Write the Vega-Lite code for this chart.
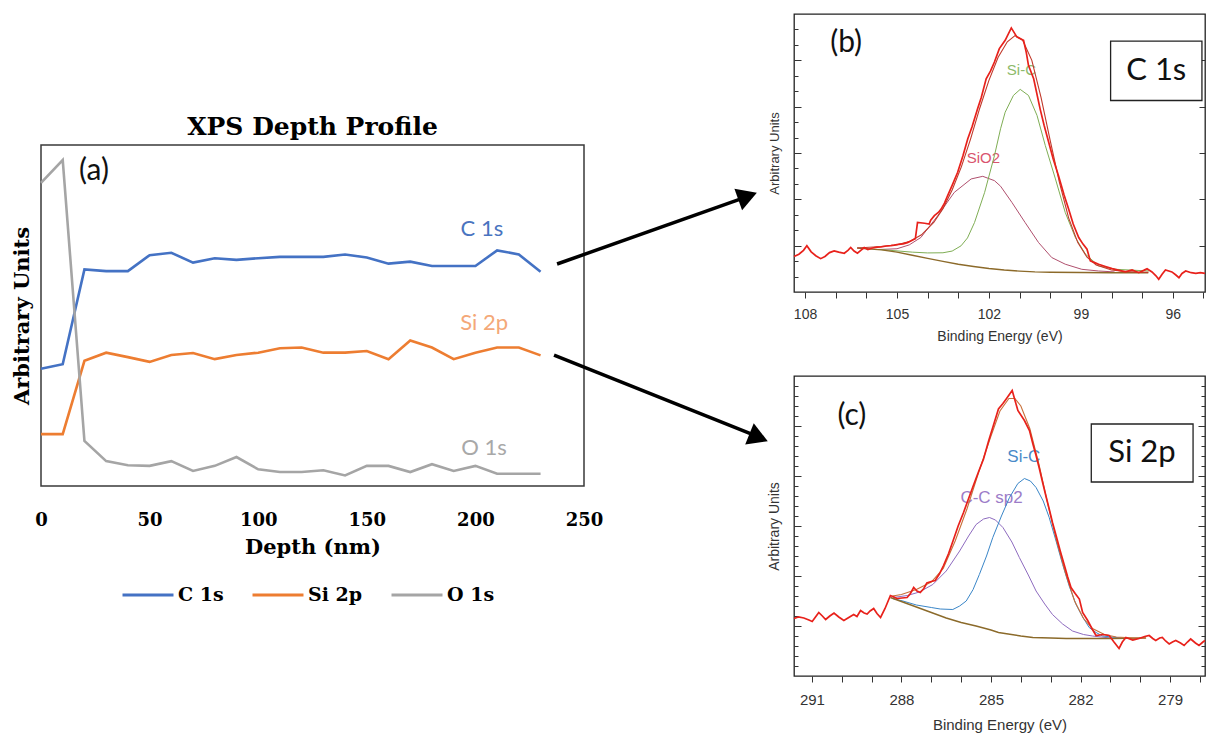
{
  "$schema": "https://vega.github.io/schema/vega-lite/v6.json",
  "background": "white",
  "padding": {"left": 10, "top": 13, "right": 0, "bottom": 0},
  "autosize": {"type": "pad"},
  "config": {"axis": {"grid": false}},
  "datasets": {
    "profile": [
      {"depth": 0, "C 1s": 34.4, "Si 2p": 15.2, "O 1s": 88.9},
      {"depth": 10, "C 1s": 35.7, "Si 2p": 15.2, "O 1s": 95.6},
      {"depth": 20, "C 1s": 63.5, "Si 2p": 36.7, "O 1s": 13.2},
      {"depth": 30, "C 1s": 63.0, "Si 2p": 39.1, "O 1s": 7.3},
      {"depth": 40, "C 1s": 63.0, "Si 2p": 37.8, "O 1s": 6.1},
      {"depth": 50, "C 1s": 67.7, "Si 2p": 36.4, "O 1s": 5.9},
      {"depth": 60, "C 1s": 68.4, "Si 2p": 38.4, "O 1s": 7.3},
      {"depth": 70, "C 1s": 65.5, "Si 2p": 39.0, "O 1s": 4.4},
      {"depth": 80, "C 1s": 66.8, "Si 2p": 37.2, "O 1s": 5.9},
      {"depth": 90, "C 1s": 66.3, "Si 2p": 38.4, "O 1s": 8.5},
      {"depth": 100, "C 1s": 66.8, "Si 2p": 39.1, "O 1s": 4.9},
      {"depth": 110, "C 1s": 67.2, "Si 2p": 40.4, "O 1s": 4.1},
      {"depth": 120, "C 1s": 67.2, "Si 2p": 40.6, "O 1s": 4.1},
      {"depth": 130, "C 1s": 67.2, "Si 2p": 39.1, "O 1s": 4.6},
      {"depth": 140, "C 1s": 67.9, "Si 2p": 39.1, "O 1s": 3.1},
      {"depth": 150, "C 1s": 67.0, "Si 2p": 39.6, "O 1s": 5.9},
      {"depth": 160, "C 1s": 65.2, "Si 2p": 37.2, "O 1s": 5.9},
      {"depth": 170, "C 1s": 65.8, "Si 2p": 42.7, "O 1s": 4.1},
      {"depth": 180, "C 1s": 64.5, "Si 2p": 40.6, "O 1s": 6.4},
      {"depth": 190, "C 1s": 64.5, "Si 2p": 37.2, "O 1s": 4.4},
      {"depth": 200, "C 1s": 64.5, "Si 2p": 39.1, "O 1s": 5.9},
      {"depth": 210, "C 1s": 69.1, "Si 2p": 40.6, "O 1s": 3.6},
      {"depth": 220, "C 1s": 67.9, "Si 2p": 40.6, "O 1s": 3.6},
      {"depth": 230, "C 1s": 62.8, "Si 2p": 38.3, "O 1s": 3.6}
    ],
    "b_raw": [
      {"e": 108.36, "v": 23.0}, {"e": 108.2, "v": 24.5}, {"e": 108.05, "v": 27.0}, {"e": 107.94, "v": 30.0},
      {"e": 107.8, "v": 26.0}, {"e": 107.65, "v": 23.5}, {"e": 107.49, "v": 21.6}, {"e": 107.35, "v": 23.0},
      {"e": 107.2, "v": 25.5}, {"e": 107.05, "v": 26.6}, {"e": 106.9, "v": 25.8}, {"e": 106.72, "v": 25.1},
      {"e": 106.6, "v": 27.0}, {"e": 106.51, "v": 28.8}, {"e": 106.4, "v": 26.5}, {"e": 106.29, "v": 25.1},
      {"e": 106.18, "v": 27.0}, {"e": 106.07, "v": 28.8}, {"e": 105.95, "v": 27.5}, {"e": 105.8, "v": 28.5},
      {"e": 105.65, "v": 29.0}, {"e": 105.52, "v": 29.2}, {"e": 105.35, "v": 29.8}, {"e": 105.2, "v": 30.0},
      {"e": 105.09, "v": 30.3}, {"e": 104.95, "v": 30.8}, {"e": 104.8, "v": 31.2}, {"e": 104.66, "v": 32.0},
      {"e": 104.55, "v": 33.0}, {"e": 104.44, "v": 34.2}, {"e": 104.4, "v": 34.5}, {"e": 104.33, "v": 45.0},
      {"e": 104.1, "v": 44.5}, {"e": 103.95, "v": 44.0}, {"e": 103.9, "v": 46.5}, {"e": 103.78, "v": 49.4},
      {"e": 103.65, "v": 51.5}, {"e": 103.56, "v": 53.7}, {"e": 103.45, "v": 57.5}, {"e": 103.35, "v": 62.3},
      {"e": 103.2, "v": 69.0}, {"e": 103.02, "v": 77.5}, {"e": 102.85, "v": 88.0}, {"e": 102.69, "v": 99.2},
      {"e": 102.55, "v": 107.0}, {"e": 102.37, "v": 118.6}, {"e": 102.25, "v": 126.0}, {"e": 102.09, "v": 138.1},
      {"e": 101.95, "v": 143.0}, {"e": 101.82, "v": 148.9}, {"e": 101.66, "v": 157.6}, {"e": 101.47, "v": 163.0},
      {"e": 101.27, "v": 171.0}, {"e": 101.09, "v": 165.2}, {"e": 100.87, "v": 163.0}, {"e": 100.78, "v": 155.0},
      {"e": 100.71, "v": 146.8}, {"e": 100.54, "v": 138.1}, {"e": 100.33, "v": 118.6}, {"e": 100.2, "v": 108.0},
      {"e": 100.05, "v": 97.0}, {"e": 99.9, "v": 86.0}, {"e": 99.73, "v": 75.3}, {"e": 99.55, "v": 63.0},
      {"e": 99.4, "v": 53.7}, {"e": 99.25, "v": 44.0}, {"e": 99.07, "v": 35.3}, {"e": 98.93, "v": 31.0},
      {"e": 98.8, "v": 27.7}, {"e": 98.69, "v": 20.1}, {"e": 98.55, "v": 19.0}, {"e": 98.42, "v": 18.0},
      {"e": 98.2, "v": 16.5}, {"e": 97.98, "v": 15.1}, {"e": 97.75, "v": 14.0}, {"e": 97.55, "v": 13.0},
      {"e": 97.33, "v": 14.3}, {"e": 97.11, "v": 12.5}, {"e": 96.95, "v": 14.0}, {"e": 96.84, "v": 15.1},
      {"e": 96.68, "v": 13.0}, {"e": 96.55, "v": 10.5}, {"e": 96.46, "v": 8.2}, {"e": 96.35, "v": 11.5},
      {"e": 96.24, "v": 14.3}, {"e": 96.03, "v": 13.0}, {"e": 95.9, "v": 11.0}, {"e": 95.8, "v": 9.3},
      {"e": 95.7, "v": 12.0}, {"e": 95.58, "v": 13.6}, {"e": 95.4, "v": 12.5}, {"e": 95.25, "v": 12.1},
      {"e": 95.1, "v": 12.6}, {"e": 94.95, "v": 12.1}
    ],
    "b_env": [
      {"e": 106.3, "v": 28.5}, {"e": 105.5, "v": 29.5}, {"e": 105.0, "v": 30.6}, {"e": 104.6, "v": 32.6},
      {"e": 104.2, "v": 37.0}, {"e": 103.8, "v": 45.0}, {"e": 103.5, "v": 54.0}, {"e": 103.2, "v": 66.0},
      {"e": 102.9, "v": 81.0}, {"e": 102.6, "v": 99.0}, {"e": 102.3, "v": 119.0}, {"e": 102.0, "v": 137.0},
      {"e": 101.7, "v": 152.0}, {"e": 101.4, "v": 162.0}, {"e": 101.15, "v": 166.0}, {"e": 100.9, "v": 163.0},
      {"e": 100.6, "v": 150.0}, {"e": 100.3, "v": 126.0}, {"e": 100.0, "v": 98.0}, {"e": 99.7, "v": 71.0},
      {"e": 99.4, "v": 48.0}, {"e": 99.1, "v": 32.0}, {"e": 98.8, "v": 22.5}, {"e": 98.5, "v": 17.5},
      {"e": 98.0, "v": 14.2}, {"e": 97.5, "v": 13.2}, {"e": 97.0, "v": 12.8}, {"e": 96.8, "v": 12.7}
    ],
    "b_bg": [
      {"e": 106.3, "v": 28.5}, {"e": 105.5, "v": 27.3}, {"e": 105.0, "v": 25.8}, {"e": 104.5, "v": 23.8},
      {"e": 104.0, "v": 21.8}, {"e": 103.5, "v": 19.8}, {"e": 103.0, "v": 18.0}, {"e": 102.5, "v": 16.5},
      {"e": 102.0, "v": 15.2}, {"e": 101.5, "v": 14.2}, {"e": 101.0, "v": 13.5}, {"e": 100.5, "v": 13.0},
      {"e": 100.0, "v": 12.8}, {"e": 99.0, "v": 12.6}, {"e": 98.0, "v": 12.5}, {"e": 97.0, "v": 12.5},
      {"e": 96.8, "v": 12.5}
    ],
    "b_sio2": [
      {"e": 105.6, "v": 27.5}, {"e": 105.0, "v": 28.0}, {"e": 104.6, "v": 30.5}, {"e": 104.22, "v": 35.3},
      {"e": 103.67, "v": 49.4}, {"e": 103.13, "v": 64.5}, {"e": 102.58, "v": 73.2}, {"e": 102.2, "v": 74.9},
      {"e": 101.82, "v": 72.1}, {"e": 101.62, "v": 68.5}, {"e": 101.25, "v": 58.0}, {"e": 100.82, "v": 45.0},
      {"e": 100.38, "v": 32.0}, {"e": 99.95, "v": 22.3}, {"e": 99.51, "v": 18.0}, {"e": 98.97, "v": 14.7},
      {"e": 98.42, "v": 13.6}, {"e": 97.9, "v": 13.0}
    ],
    "b_sic": [
      {"e": 105.6, "v": 27.6}, {"e": 104.5, "v": 25.8}, {"e": 104.0, "v": 25.3}, {"e": 103.5, "v": 25.4},
      {"e": 103.2, "v": 26.5}, {"e": 102.91, "v": 29.9}, {"e": 102.7, "v": 35.0}, {"e": 102.47, "v": 45.0},
      {"e": 102.14, "v": 64.5}, {"e": 101.82, "v": 88.3}, {"e": 101.62, "v": 105.7}, {"e": 101.47, "v": 116.4},
      {"e": 101.2, "v": 127.3}, {"e": 100.98, "v": 131.2}, {"e": 100.71, "v": 127.3}, {"e": 100.43, "v": 114.3},
      {"e": 100.16, "v": 94.8}, {"e": 99.83, "v": 73.2}, {"e": 99.51, "v": 51.5}, {"e": 99.18, "v": 35.3},
      {"e": 98.85, "v": 24.5}, {"e": 98.42, "v": 16.9}, {"e": 97.87, "v": 14.7}, {"e": 96.78, "v": 13.6}
    ],
    "c_raw": [
      {"e": 291.6, "v": 11.5}, {"e": 291.45, "v": 11.8}, {"e": 291.27, "v": 11.6}, {"e": 291.1, "v": 11.2},
      {"e": 290.99, "v": 10.9}, {"e": 290.88, "v": 11.8}, {"e": 290.77, "v": 12.7}, {"e": 290.65, "v": 12.0},
      {"e": 290.54, "v": 11.3}, {"e": 290.4, "v": 12.0}, {"e": 290.26, "v": 12.6}, {"e": 290.1, "v": 11.8},
      {"e": 289.93, "v": 11.1}, {"e": 289.82, "v": 11.5}, {"e": 289.71, "v": 11.9}, {"e": 289.6, "v": 12.3},
      {"e": 289.49, "v": 11.9}, {"e": 289.37, "v": 13.1}, {"e": 289.25, "v": 12.6}, {"e": 289.15, "v": 12.4},
      {"e": 289.05, "v": 13.0}, {"e": 288.93, "v": 13.5}, {"e": 288.82, "v": 12.5}, {"e": 288.7, "v": 11.7},
      {"e": 288.55, "v": 13.5}, {"e": 288.37, "v": 16.1}, {"e": 288.25, "v": 15.8}, {"e": 288.15, "v": 15.5},
      {"e": 287.98, "v": 15.6}, {"e": 287.81, "v": 15.7}, {"e": 287.7, "v": 16.5}, {"e": 287.59, "v": 17.7},
      {"e": 287.48, "v": 17.0}, {"e": 287.37, "v": 16.7}, {"e": 287.25, "v": 17.5}, {"e": 287.15, "v": 18.6},
      {"e": 287.0, "v": 18.9}, {"e": 286.87, "v": 19.1}, {"e": 286.72, "v": 20.5}, {"e": 286.59, "v": 22.1},
      {"e": 286.42, "v": 24.5}, {"e": 286.25, "v": 27.4}, {"e": 286.1, "v": 30.0}, {"e": 285.92, "v": 32.7},
      {"e": 285.75, "v": 35.5}, {"e": 285.59, "v": 38.1}, {"e": 285.42, "v": 40.8}, {"e": 285.25, "v": 43.4},
      {"e": 285.08, "v": 47.0}, {"e": 284.92, "v": 50.1}, {"e": 284.75, "v": 53.4}, {"e": 284.6, "v": 54.5},
      {"e": 284.49, "v": 55.4}, {"e": 284.29, "v": 57.1}, {"e": 284.1, "v": 53.1}, {"e": 283.88, "v": 51.1},
      {"e": 283.71, "v": 49.1}, {"e": 283.6, "v": 46.5}, {"e": 283.49, "v": 44.1}, {"e": 283.38, "v": 41.5},
      {"e": 283.27, "v": 38.7}, {"e": 283.16, "v": 36.0}, {"e": 283.05, "v": 33.4}, {"e": 282.94, "v": 30.7},
      {"e": 282.82, "v": 28.1}, {"e": 282.68, "v": 25.0}, {"e": 282.54, "v": 22.1}, {"e": 282.43, "v": 19.8},
      {"e": 282.32, "v": 17.7}, {"e": 282.18, "v": 16.5}, {"e": 282.04, "v": 15.4}, {"e": 281.93, "v": 12.7},
      {"e": 281.76, "v": 11.1}, {"e": 281.62, "v": 9.5}, {"e": 281.48, "v": 8.1}, {"e": 281.25, "v": 8.3},
      {"e": 281.04, "v": 8.1}, {"e": 280.88, "v": 6.8}, {"e": 280.71, "v": 5.5}, {"e": 280.6, "v": 6.8},
      {"e": 280.48, "v": 7.7}, {"e": 280.25, "v": 7.2}, {"e": 280.04, "v": 7.5}, {"e": 279.85, "v": 7.9},
      {"e": 279.7, "v": 8.1}, {"e": 279.58, "v": 7.5}, {"e": 279.48, "v": 7.1}, {"e": 279.35, "v": 7.6},
      {"e": 279.26, "v": 7.7}, {"e": 279.15, "v": 7.0}, {"e": 279.03, "v": 6.4}, {"e": 278.92, "v": 6.8},
      {"e": 278.81, "v": 7.1}, {"e": 278.65, "v": 6.6}, {"e": 278.53, "v": 6.1}, {"e": 278.42, "v": 6.8},
      {"e": 278.31, "v": 7.4}, {"e": 278.15, "v": 6.6}, {"e": 278.03, "v": 6.1}, {"e": 277.9, "v": 6.8},
      {"e": 277.83, "v": 7.1}
    ],
    "c_env": [
      {"e": 288.3, "v": 16.0}, {"e": 288.0, "v": 16.3}, {"e": 287.5, "v": 17.3}, {"e": 287.0, "v": 18.8},
      {"e": 286.6, "v": 21.5}, {"e": 286.2, "v": 27.0}, {"e": 285.8, "v": 33.5}, {"e": 285.4, "v": 41.0},
      {"e": 285.0, "v": 48.0}, {"e": 284.7, "v": 53.0}, {"e": 284.4, "v": 55.5}, {"e": 284.2, "v": 55.5},
      {"e": 284.0, "v": 54.0}, {"e": 283.7, "v": 49.5}, {"e": 283.4, "v": 42.5}, {"e": 283.1, "v": 34.5},
      {"e": 282.8, "v": 27.0}, {"e": 282.5, "v": 20.5}, {"e": 282.2, "v": 15.0}, {"e": 281.9, "v": 11.5},
      {"e": 281.6, "v": 9.5}, {"e": 281.2, "v": 8.3}, {"e": 280.8, "v": 7.8}, {"e": 280.2, "v": 7.6},
      {"e": 279.8, "v": 7.6}
    ],
    "c_bg": [
      {"e": 288.37, "v": 15.7}, {"e": 287.5, "v": 13.8}, {"e": 287.0, "v": 12.7}, {"e": 286.5, "v": 11.6},
      {"e": 286.0, "v": 10.7}, {"e": 285.5, "v": 10.0}, {"e": 285.0, "v": 9.2}, {"e": 284.75, "v": 8.7},
      {"e": 284.0, "v": 8.0}, {"e": 283.6, "v": 7.7}, {"e": 283.0, "v": 7.6}, {"e": 282.48, "v": 7.5},
      {"e": 281.0, "v": 7.5}, {"e": 279.81, "v": 7.6}
    ],
    "c_sic": [
      {"e": 288.3, "v": 15.5}, {"e": 287.95, "v": 15.0}, {"e": 287.5, "v": 14.2}, {"e": 287.0, "v": 13.7},
      {"e": 286.7, "v": 13.4}, {"e": 286.28, "v": 13.3}, {"e": 286.05, "v": 14.0}, {"e": 285.83, "v": 15.0},
      {"e": 285.6, "v": 17.3}, {"e": 285.39, "v": 20.3}, {"e": 285.15, "v": 24.0}, {"e": 284.94, "v": 27.7},
      {"e": 284.65, "v": 32.0}, {"e": 284.38, "v": 35.7}, {"e": 284.1, "v": 38.5}, {"e": 283.88, "v": 39.5},
      {"e": 283.68, "v": 39.0}, {"e": 283.49, "v": 37.7}, {"e": 283.25, "v": 35.0}, {"e": 283.05, "v": 31.7},
      {"e": 282.82, "v": 27.0}, {"e": 282.6, "v": 22.3}, {"e": 282.38, "v": 18.0}, {"e": 282.15, "v": 14.3},
      {"e": 281.93, "v": 11.8}, {"e": 281.71, "v": 9.7}, {"e": 281.48, "v": 8.7}, {"e": 281.26, "v": 8.0},
      {"e": 280.48, "v": 7.5}
    ],
    "c_cc": [
      {"e": 288.28, "v": 15.7}, {"e": 287.8, "v": 16.1}, {"e": 287.4, "v": 16.8}, {"e": 286.95, "v": 18.3},
      {"e": 286.5, "v": 21.0}, {"e": 286.05, "v": 25.0}, {"e": 285.75, "v": 28.0}, {"e": 285.5, "v": 30.3},
      {"e": 285.25, "v": 31.4}, {"e": 285.05, "v": 31.7}, {"e": 284.85, "v": 31.2}, {"e": 284.6, "v": 29.7},
      {"e": 284.3, "v": 26.8}, {"e": 284.05, "v": 23.7}, {"e": 283.75, "v": 20.2}, {"e": 283.49, "v": 17.0},
      {"e": 283.2, "v": 14.4}, {"e": 282.94, "v": 12.3}, {"e": 282.6, "v": 10.4}, {"e": 282.27, "v": 9.0},
      {"e": 281.9, "v": 8.3}, {"e": 281.6, "v": 8.0}, {"e": 281.0, "v": 7.6}, {"e": 280.4, "v": 7.5}
    ]
  },
  "bounds": "flush",
  "spacing": 753,
  "hconcat": [
    {
      "bounds": "flush",
      "spacing": 0,
      "vconcat": [
        {
          "width": 543,
          "height": 131,
          "view": {"stroke": null},
          "data": {"values": [{"t": ""}]},
          "mark": {"type": "text"},
          "encoding": {"text": {"field": "t"}}
        },
        {
          "width": 543,
          "height": 341,
          "title": {"text": "XPS Depth Profile", "font": "DejaVu Serif", "fontSize": 25, "fontWeight": "bold", "color": "#000000", "offset": 5, "anchor": "middle"},
          "view": {"stroke": "#3a3a3a", "strokeWidth": 1.5},
          "layer": [
            {
              "data": {"name": "profile"},
              "transform": [{"fold": ["C 1s", "Si 2p", "O 1s"], "as": ["series", "val"]}],
              "mark": {"type": "line", "strokeWidth": 2.6},
              "encoding": {
                "x": {"field": "depth", "type": "quantitative", "scale": {"domain": [0, 250], "nice": false, "zero": false},
                  "axis": {"title": "Depth (nm)", "values": [0, 50, 100, 150, 200, 250], "ticks": false, "domain": false, "labelPadding": 25, "labelFlush": false,
                    "labelFont": "DejaVu Serif", "labelFontSize": 18, "labelFontWeight": "bold", "labelColor": "#000000",
                    "titleFont": "DejaVu Serif", "titleFontSize": 21, "titleFontWeight": "bold", "titleColor": "#000000", "titlePadding": 7}},
                "y": {"field": "val", "type": "quantitative", "scale": {"domain": [0, 100], "nice": false, "zero": false},
                  "axis": {"title": "Arbitrary Units", "labels": false, "ticks": false, "domain": false,
                    "titleFont": "DejaVu Serif", "titleFontSize": 21, "titleFontWeight": "bold", "titleColor": "#000000", "titlePadding": 9}},
                "color": {"field": "series", "type": "nominal",
                  "scale": {"domain": ["C 1s", "Si 2p", "O 1s"], "range": ["#4472C4", "#ED7D31", "#A5A5A5"]},
                  "legend": {"orient": "none", "legendX": 80, "legendY": 554, "direction": "horizontal", "title": null,
                    "symbolType": "stroke", "symbolStrokeWidth": 3, "symbolSize": 2600, "columnPadding": 22,
                    "labelFont": "DejaVu Serif", "labelFontSize": 19, "labelFontWeight": "bold", "labelColor": "#000000", "labelOffset": 3}}
              }
            },
            {
              "data": {"values": [
                {"depth": 203, "val": 75.4, "label": "C 1s"},
                {"depth": 204, "val": 47.8, "label": "Si 2p"},
                {"depth": 204, "val": 11.1, "label": "O 1s"}
              ]},
              "mark": {"type": "text", "font": "Lato", "fontSize": 22},
              "encoding": {
                "x": {"field": "depth", "type": "quantitative"},
                "y": {"field": "val", "type": "quantitative"},
                "text": {"field": "label"},
                "fill": {"field": "label", "type": "nominal", "scale": {"domain": ["C 1s", "Si 2p", "O 1s"], "range": ["#4A74C0", "#F4A878", "#A8A8A8"]}, "legend": null}
              }
            },
            {
              "data": {"values": [{"depth": 24.4, "val": 92.4, "label": "(a)"}]},
              "mark": {"type": "text", "font": "Lato", "fontSize": 30, "color": "#111111"},
              "encoding": {
                "x": {"field": "depth", "type": "quantitative"},
                "y": {"field": "val", "type": "quantitative"},
                "text": {"field": "label"}
              }
            },
            {
              "data": {"values": [
                {"depth": 237.6, "val": 65.1, "depth2": 324.5, "val2": 84.7},
                {"depth": 236.2, "val": 38.4, "depth2": 329.5, "val2": 14.6}
              ]},
              "mark": {"type": "rule", "strokeWidth": 3.5, "color": "#000000"},
              "encoding": {
                "x": {"field": "depth", "type": "quantitative"},
                "y": {"field": "val", "type": "quantitative"},
                "x2": {"field": "depth2"},
                "y2": {"field": "val2"}
              }
            },
            {
              "data": {"values": [{"depth": 325.3, "val": 85.0}]},
              "mark": {"type": "point", "shape": "triangle-right", "filled": true, "size": 520, "angle": 340.4, "color": "#000000", "opacity": 1},
              "encoding": {
                "x": {"field": "depth", "type": "quantitative"},
                "y": {"field": "val", "type": "quantitative"}
              }
            },
            {
              "data": {"values": [{"depth": 330.4, "val": 14.2}]},
              "mark": {"type": "point", "shape": "triangle-right", "filled": true, "size": 520, "angle": 22, "color": "#000000", "opacity": 1},
              "encoding": {
                "x": {"field": "depth", "type": "quantitative"},
                "y": {"field": "val", "type": "quantitative"}
              }
            }
          ]
        }
      ]
    },
    {
      "bounds": "flush",
      "spacing": 84,
      "vconcat": [
        {
          "width": 411,
          "height": 278,
          "view": {"stroke": "#222222", "strokeWidth": 1.3},
          "resolve": {"axis": {"y": "independent"}},
          "layer": [
            {
              "encoding": {
                "x": {"field": "e", "type": "quantitative", "scale": {"domain": [94.95, 108.36], "reverse": true, "nice": false, "zero": false},
                  "axis": {"title": "Binding Energy (eV)", "values": [95, 96, 97, 98, 99, 100, 101, 102, 103, 104, 105, 106, 107, 108],
                    "labelExpr": "datum.value % 3 === 0 ? datum.label : ''", "labelOverlap": false, "labelFlush": false,
                    "tickSize": 6, "tickColor": "#333333", "domain": false,
                    "labelFont": "Liberation Sans", "labelFontSize": 14, "labelColor": "#333333", "labelPadding": 9,
                    "titleFont": "Liberation Sans", "titleFontSize": 14, "titleFontWeight": "normal", "titleColor": "#333333", "titlePadding": 8}},
                "y": {"field": "v", "type": "quantitative", "scale": {"domain": [0, 180], "nice": false, "zero": false},
                  "axis": {"title": "Arbitrary Units", "values": [10, 20, 30, 40, 50, 60, 70, 80, 90, 100, 110, 120, 130, 140, 150, 160, 170],
                    "labels": false, "domain": false, "tickColor": "#333333",
                    "tickSize": {"condition": {"test": "datum.value % 30 === 0", "value": -7}, "value": -4},
                    "titleFont": "Liberation Sans", "titleFontSize": 13, "titleFontWeight": "normal", "titleColor": "#333333", "titlePadding": 12}}
              },
              "layer": [
                {
                  "data": {"values": [{"e": 102.18, "v": 87, "t": "SiO2"}]},
                  "mark": {"type": "text", "font": "Liberation Sans", "fontSize": 15, "color": "#D9546E"},
                  "encoding": {"text": {"field": "t"}}
                },
                {
                  "data": {"values": [{"e": 100.94, "v": 143.5, "t": "Si-C"}]},
                  "mark": {"type": "text", "font": "Liberation Sans", "fontSize": 15, "color": "#8DBA6A"},
                  "encoding": {"text": {"field": "t"}}
                },
                {"data": {"name": "b_sio2"}, "mark": {"type": "line", "color": "#B0506E", "strokeWidth": 1}},
                {"data": {"name": "b_sic"}, "mark": {"type": "line", "color": "#7FAE55", "strokeWidth": 1}},
                {"data": {"name": "b_bg"}, "mark": {"type": "line", "color": "#8C6A2A", "strokeWidth": 1.4}},
                {"data": {"name": "b_env"}, "mark": {"type": "line", "color": "#C0392B", "strokeWidth": 1.1}},
                {"data": {"name": "b_raw"}, "mark": {"type": "line", "color": "#E8211B", "strokeWidth": 1.7}},
                {
                  "data": {"values": [{"e": 98.03, "e2": 95.05, "v": 162.5, "v2": 124.0}]},
                  "mark": {"type": "rect", "fill": "#ffffff", "stroke": "#222222", "strokeWidth": 1.3},
                  "encoding": {
                    "x2": {"field": "e2"},
                    "y2": {"field": "v2"}
                  }
                },
                {
                  "data": {"values": [{"e": 96.54, "v": 142.9, "t": "C 1s"}]},
                  "mark": {"type": "text", "font": "Lato", "fontSize": 31, "color": "#111111"},
                  "encoding": {"text": {"field": "t"}}
                },
                {
                  "data": {"values": [{"e": 106.66, "v": 161, "t": "(b)"}]},
                  "mark": {"type": "text", "font": "Lato", "fontSize": 30, "color": "#111111"},
                  "encoding": {"text": {"field": "t"}}
                }
              ]
            },
            {
              "data": {"values": [{"v": 0}]},
              "mark": {"type": "point", "opacity": 0},
              "encoding": {
                "y": {"field": "v", "type": "quantitative", "scale": {"domain": [0, 180], "nice": false, "zero": false},
                  "axis": {"orient": "right", "title": null, "values": [30, 60, 90, 120, 150], "labels": false, "domain": false, "tickColor": "#333333", "tickSize": -6}}
              }
            }
          ]
        },
        {
          "width": 411,
          "height": 300,
          "view": {"stroke": "#222222", "strokeWidth": 1.3},
          "resolve": {"axis": {"y": "independent"}},
          "layer": [
            {
              "encoding": {
                "x": {"field": "e", "type": "quantitative", "scale": {"domain": [277.83, 291.6], "reverse": true, "nice": false, "zero": false},
                  "axis": {"title": "Binding Energy (eV)", "values": [278, 279, 280, 281, 282, 283, 284, 285, 286, 287, 288, 289, 290, 291],
                    "labelExpr": "datum.value % 3 === 0 ? datum.label : ''", "labelOverlap": false, "labelFlush": false,
                    "tickSize": 6, "tickColor": "#333333", "domain": false,
                    "labelFont": "Liberation Sans", "labelFontSize": 15, "labelColor": "#333333", "labelPadding": 10,
                    "titleFont": "Liberation Sans", "titleFontSize": 15, "titleFontWeight": "normal", "titleColor": "#333333", "titlePadding": 10}},
                "y": {"field": "v", "type": "quantitative", "scale": {"domain": [0, 60], "nice": false, "zero": false},
                  "axis": {"title": "Arbitrary Units", "values": [2, 4, 6, 8, 10, 12, 14, 16, 18, 20, 22, 24, 26, 28, 30, 32, 34, 36, 38, 40, 42, 44, 46, 48, 50, 52, 54, 56, 58],
                    "labels": false, "domain": false, "tickColor": "#333333",
                    "tickSize": {"condition": {"test": "datum.value % 10 === 0", "value": -7}, "value": -4},
                    "titleFont": "Liberation Sans", "titleFontSize": 14, "titleFontWeight": "normal", "titleColor": "#333333", "titlePadding": 12}}
              },
              "layer": [
                {
                  "data": {"values": [{"e": 283.9, "v": 43.8, "t": "Si-C"}]},
                  "mark": {"type": "text", "font": "Liberation Sans", "fontSize": 17, "color": "#4A8AC8"},
                  "encoding": {"text": {"field": "t"}}
                },
                {
                  "data": {"values": [{"e": 284.98, "v": 35.7, "t": "C-C sp2"}]},
                  "mark": {"type": "text", "font": "Liberation Sans", "fontSize": 17, "color": "#9C7CC8"},
                  "encoding": {"text": {"field": "t"}}
                },
                {"data": {"name": "c_cc"}, "mark": {"type": "line", "color": "#8E6BBF", "strokeWidth": 1}},
                {"data": {"name": "c_sic"}, "mark": {"type": "line", "color": "#3A86C8", "strokeWidth": 1}},
                {"data": {"name": "c_bg"}, "mark": {"type": "line", "color": "#8B6A2A", "strokeWidth": 1.4}},
                {"data": {"name": "c_env"}, "mark": {"type": "line", "color": "#C8703A", "strokeWidth": 1.1}},
                {"data": {"name": "c_raw"}, "mark": {"type": "line", "color": "#E8211B", "strokeWidth": 1.7}},
                {
                  "data": {"values": [{"e": 281.64, "e2": 278.23, "v": 50.4, "v2": 38.8}]},
                  "mark": {"type": "rect", "fill": "#ffffff", "stroke": "#222222", "strokeWidth": 1.3},
                  "encoding": {
                    "x2": {"field": "e2"},
                    "y2": {"field": "v2"}
                  }
                },
                {
                  "data": {"values": [{"e": 279.94, "v": 44.6, "t": "Si 2p"}]},
                  "mark": {"type": "text", "font": "Lato", "fontSize": 31, "color": "#111111"},
                  "encoding": {"text": {"field": "t"}}
                },
                {
                  "data": {"values": [{"e": 289.66, "v": 52, "t": "(c)"}]},
                  "mark": {"type": "text", "font": "Lato", "fontSize": 30, "color": "#111111"},
                  "encoding": {"text": {"field": "t"}}
                }
              ]
            },
            {
              "data": {"values": [{"v": 0}]},
              "mark": {"type": "point", "opacity": 0},
              "encoding": {
                "y": {"field": "v", "type": "quantitative", "scale": {"domain": [0, 60], "nice": false, "zero": false},
                  "axis": {"orient": "right", "title": null, "values": [2, 4, 6, 8, 10, 12, 14, 16, 18, 20, 22, 24, 26, 28, 30, 32, 34, 36, 38, 40, 42, 44, 46, 48, 50, 52, 54, 56, 58],
                    "labels": false, "domain": false, "tickColor": "#333333",
                    "tickSize": {"condition": {"test": "datum.value % 10 === 0", "value": -7}, "value": -4}}}
              }
            }
          ]
        }
      ]
    }
  ]
}
